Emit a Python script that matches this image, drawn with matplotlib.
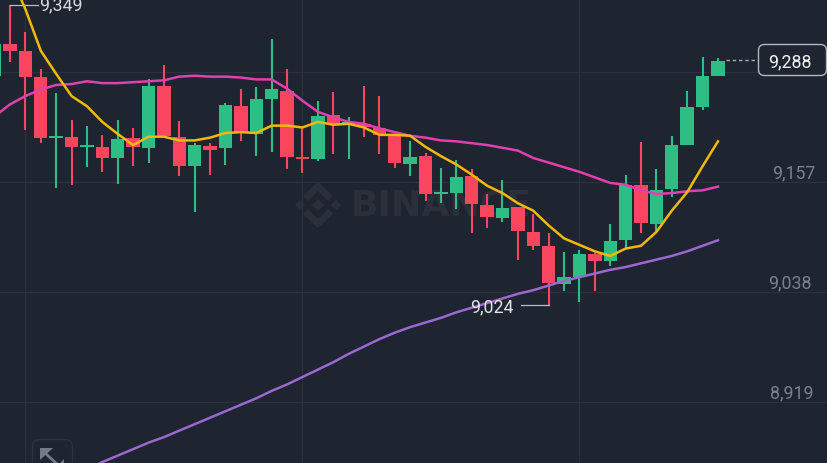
import numpy as np
import matplotlib
matplotlib.use("Agg")
import matplotlib.pyplot as plt
from matplotlib.patches import FancyBboxPatch, Polygon
from matplotlib.transforms import Affine2D

# candles, index -1 .. 46
opens = [9272, 9306, 9299, 9271, 9205, 9206, 9195, 9195, 9183, 9205, 9194, 9261, 9206, 9174, 9196, 9194, 9239,
         9209, 9247, 9255, 9184, 9182, 9229, 9220, 9220, 9215, 9207, 9176, 9185, 9144, 9145, 9163, 9132,
         9118, 9130, 9103, 9088, 9047, 9054, 9079, 9072, 9094, 9154, 9112, 9149, 9197, 9238, 9272]
closes = [9306, 9299, 9271, 9205, 9206, 9195, 9197, 9183, 9204, 9195, 9261, 9207, 9174, 9197, 9192, 9240, 9211,
          9247, 9258, 9184, 9182, 9228, 9220, 9221, 9216, 9208, 9178, 9184, 9144, 9146, 9162, 9133, 9119,
          9129, 9104, 9088, 9048, 9054, 9079, 9072, 9093, 9154, 9113, 9148, 9197, 9238, 9272, 9288]
highs = [9312, 9349, 9319, 9279, 9253, 9224, 9218, 9208, 9224, 9215, 9268, 9284, 9223, 9199, 9199, 9243, 9258,
         9260, 9312, 9279, 9216, 9245, 9254, 9227, 9261, 9250, 9209, 9201, 9188, 9172, 9181, 9171, 9144,
         9159, 9130, 9122, 9102, 9081, 9083, 9080, 9112, 9165, 9200, 9171, 9207, 9255, 9292, 9291]
lows = [9272, 9287, 9213, 9199, 9150, 9154, 9173, 9168, 9155, 9174, 9178, 9207, 9164, 9125, 9165, 9175, 9201,
        9185, 9189, 9171, 9167, 9180, 9187, 9182, 9206, 9187, 9172, 9164, 9136, 9134, 9128, 9102, 9107,
        9114, 9073, 9083, 9024, 9039, 9027, 9039, 9066, 9086, 9102, 9104, 9141, 9197, 9235, 9272]

# moving averages; each starts at the index named
ma7_start = 0
ma7 = [9382, 9344, 9299, 9274, 9250, 9239, 9222, 9209, 9197, 9206, 9206, 9202, 9202, 9205, 9210, 9211, 9210,
       9218, 9218, 9216, 9222, 9219, 9220, 9216, 9208, 9208, 9207, 9195, 9185, 9176, 9165, 9153, 9145,
       9134, 9126, 9110, 9096, 9089, 9082, 9077, 9085, 9088, 9103, 9126, 9146, 9174, 9201]
ma25_start = -1
ma25 = [9228, 9241, 9250, 9257, 9262, 9263, 9266, 9264, 9264, 9265, 9266, 9267, 9271, 9272, 9271, 9271, 9270,
        9268, 9268, 9258, 9245, 9233, 9227, 9222, 9220, 9215, 9211, 9207, 9205, 9202, 9201, 9199, 9197,
        9194, 9191, 9183, 9178, 9173, 9168, 9162, 9156, 9154, 9148, 9144, 9145, 9147, 9148, 9152]
ma99_start = 5
ma99 = [8846, 8854, 8861, 8868, 8875, 8881, 8888, 8895, 8902, 8909, 8916, 8923, 8931, 8938, 8946, 8954, 8962,
        8971, 8979, 8987, 8994, 9000, 9005, 9010, 9016, 9021, 9026, 9031, 9036, 9040, 9045, 9050, 9054,
        9058, 9062, 9065, 9069, 9073, 9077, 9082, 9088, 9094]

grid_prices = [9276, 9157, 9038, 8919]
axis_labels = ["9,157", "9,038", "8,919"]
axis_prices = [9167, 9048, 8929]
axis_label_x = [793.5, 789.5, 791.5]
grid_indices = [1, 19, 37]
last_label = "9,288"
high_label = "9,349"
low_label = "9,024"

BG = "#1e2430"
GRID = "#2b303b"
UP = "#2ebd85"
DOWN = "#f9455e"
AXIS_TXT = "#7b808b"
WM = "#2a2f3a"
FONT = "Roboto"
Y0, Y1 = 8853, 9355

fig = plt.figure(figsize=(8.28, 4.64), dpi=100, facecolor=BG)
ax = fig.add_axes([0, 0, 1, 1], facecolor=BG)
ax.set_xlim(-0.65, 53.15)
ax.set_ylim(Y0, Y1)
ax.axis("off")
ax.set_zorder(2)

px = Affine2D().scale(1 / 828, -1 / 464).translate(0, 1) + fig.transFigure

# gridlines
for p in grid_prices:
    ax.axhline(p, color=GRID, lw=0.9, zorder=1)
for i in grid_indices:
    ax.axvline(i, color=GRID, lw=0.9, zorder=1)

# watermark
def wm_poly(pts, cx=318, cy=206):
    fig.add_artist(Polygon([(cx + a, cy + b) for a, b in pts], closed=True, fc=WM, ec="none",
                           transform=px, zorder=0.5))

wm_poly([(0, -6), (6, 0), (0, 6), (-6, 0)])
wm_poly([(-18, -5), (-13, 0), (-18, 5), (-23, 0)])
wm_poly([(18, -5), (23, 0), (18, 5), (13, 0)])
wm_poly([(-15, -9), (0, -23), (15, -9), (10, -4), (0, -14), (-10, -4)])
wm_poly([(-15, 9), (0, 23), (15, 9), (10, 4), (0, 14), (-10, 4)])
fig.text(351, 206, "BINANCE", transform=px, color=WM, fontsize=26, fontfamily="DejaVu Sans",
         fontweight="bold", ha="left", va="center", zorder=0.5)

# candles
x = np.arange(-1, 47)
o = np.array(opens); c = np.array(closes); h = np.array(highs); l = np.array(lows)
colors = [UP if b >= a else DOWN for a, b in zip(o, c)]
ax.vlines(x, l, h, colors=colors, lw=1.5, zorder=3)
ax.bar(x, np.maximum(np.abs(c - o), 2), bottom=np.minimum(o, c), width=0.87, color=colors, lw=0, zorder=3)

# moving averages
ax.plot(np.arange(len(ma99)) + ma99_start, ma99, color="#9a68cf", lw=1.8, zorder=4)
ax.plot(np.arange(len(ma25)) + ma25_start, ma25, color="#e23fb0", lw=1.8, zorder=4)
ax.plot(np.arange(len(ma7)) + ma7_start, ma7, color="#f0b90b", lw=1.8, zorder=5)

# axis labels
for t, p, lx in zip(axis_labels, axis_prices, axis_label_x):
    ax.annotate(t, xy=(lx / 828, (p - Y0) / (Y1 - Y0)), xycoords="axes fraction", color=AXIS_TXT,
                fontsize=12.8, fontfamily=FONT, ha="center", va="center", zorder=6)

# high / low callouts
ax.plot([0, 1.82], [highs[1]] * 2, color="#b9bcc3", lw=0.9, zorder=4)
ax.text(1.9, highs[1], high_label, color="#d6d8dc", fontsize=12.8, fontfamily=FONT, ha="left", va="center", zorder=6)
ax.plot([33.2, 35], [lows[36]] * 2, color="#b9bcc3", lw=0.9, zorder=4)
ax.text(32.7, lows[36] - 1, low_label, color="#e2e3e6", fontsize=12.8, fontfamily=FONT, ha="right", va="center", zorder=6)

# last price
ax.plot([46.5, 48.7], [closes[-1] + 1] * 2, color="#a9acb3", lw=1, dashes=(2.5, 2), zorder=4)
ax.add_patch(FancyBboxPatch((758.5 + 5, 45.5 + 5), 68 - 10, 31 - 10, boxstyle="round,pad=5,rounding_size=6",
                            fc=BG, ec="#b4b7be", lw=1, transform=px, zorder=6, clip_on=False))
ax.text(789.5, 62, last_label, transform=px, color="#f1f2f3", fontsize=12.8, fontfamily=FONT,
        ha="center", va="center", zorder=7)

# expand icon at the bottom left
ax.add_patch(FancyBboxPatch((32.5 + 7, 440.5 + 7), 40 - 14, 40 - 14, boxstyle="round,pad=7,rounding_size=7",
                            fc=BG, ec="#2e333e", lw=1, transform=px, zorder=6))
ax.add_patch(Polygon([(40, 449), (53, 449), (40, 461)], fc="#747985", ec="none", transform=px, zorder=7))
ax.plot([45, 58], [454, 466], color="#747985", lw=2, transform=px, zorder=7)
ax.add_patch(Polygon([(64, 460), (64, 472), (53, 472)], fc="#747985", ec="none", transform=px, zorder=7))

fig.savefig("out.png", dpi=100, facecolor=BG)
